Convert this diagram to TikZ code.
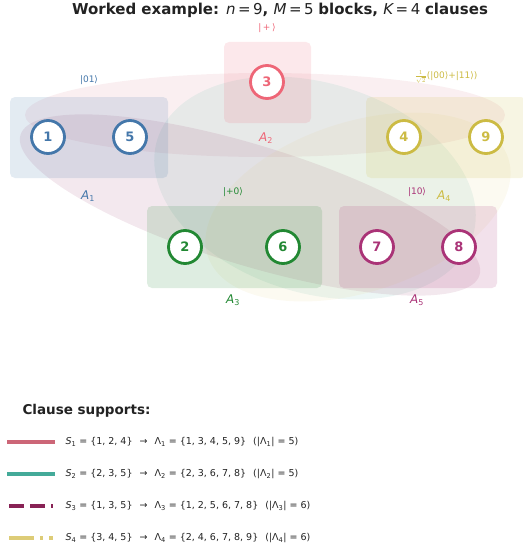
\documentclass[tikz,border=0pt]{standalone}
\usepackage{fontspec}
\setmainfont{DejaVu Sans}
\usepackage{xcolor}

\definecolor{blockblue}{HTML}{4477AA}
\definecolor{blockred}{HTML}{EE6677}
\definecolor{blockgreen}{HTML}{228833}
\definecolor{blockyellow}{HTML}{CCBB44}
\definecolor{blockpurple}{HTML}{AA3377}
\definecolor{clauserose}{HTML}{CC6677}
\definecolor{clauseteal}{HTML}{44AA99}
\definecolor{clausewine}{HTML}{882255}
\definecolor{clausesand}{HTML}{DDCC77}
\definecolor{inktext}{HTML}{222222}

\newcommand{\lowidx}[1]{\textsubscript{#1}}
\newcommand{\maps}{\hspace{7pt}→\hspace{7pt}}

\tikzset{
  qubit/.style={circle, draw=#1, line width=2.8pt, fill=white, text=#1,
    minimum size=33pt, inner sep=0pt, font=\fontsize{13}{15}\selectfont\bfseries},
  blockbox/.style={rounded corners=5pt, fill=#1, fill opacity=0.15},
  statelabel/.style={text=#1, font=\fontsize{9}{11}\selectfont},
  blocklabel/.style={text=#1, font=\fontsize{12}{14}\selectfont},
  support/.style={fill=#1, fill opacity=0.1},
  swatch/.style={draw=#1, line width=3.5pt},
  legendtext/.style={anchor=west, text=inktext, font=\fontsize{9.5}{11}\selectfont},
}

\begin{document}
\begin{tikzpicture}[x=1pt, y=-1pt]
  \useasboundingbox (0,0) rectangle (522,551);

  % Title
  \node[text=inktext, font=\fontsize{15}{17}\selectfont] (title) at (280,10)
    {\bfseries Worked example: \mdseries\itshape n\upshape\,=\,9\bfseries, \mdseries\itshape M\upshape\,=\,5 \bfseries blocks, \mdseries\itshape K\upshape\,=\,4 \bfseries clauses};

  % Clause supports
  \fill[support=clauserose] (265,115) ellipse [x radius=240, y radius=42];
  \fill[support=clauseteal, rotate around={-17:(315,188)}] (315,188) ellipse [x radius=165, y radius=105];
  \fill[support=clausewine, rotate around={-17:(250,205)}] (250,205) ellipse [x radius=240, y radius=60];
  \fill[support=clausesand, rotate around={18:(358,207)}] (358,207) ellipse [x radius=158, y radius=85];

  % Blocks
  \fill[blockbox=blockblue] (10,97) rectangle (168,178);
  \fill[blockbox=blockred] (224,42) rectangle (311,123);
  \fill[blockbox=blockyellow] (366,97) rectangle (526,178);
  \fill[blockbox=blockgreen] (147,206) rectangle (322,288);
  \fill[blockbox=blockpurple] (339,206) rectangle (497,288);

  % Qubits
  \node[qubit=blockblue] (q1) at (48,137) {1};
  \node[qubit=blockblue] (q5) at (130,137) {5};
  \node[qubit=blockred] (q3) at (267,82) {3};
  \node[qubit=blockyellow] (q4) at (404,137) {4};
  \node[qubit=blockyellow] (q9) at (486,137) {9};
  \node[qubit=blockgreen] (q2) at (185,247) {2};
  \node[qubit=blockgreen] (q6) at (283,247) {6};
  \node[qubit=blockpurple] (q7) at (377,247) {7};
  \node[qubit=blockpurple] (q8) at (459,247) {8};

  % States
  \node[statelabel=blockblue] (st1) at (89,80) {|01⟩};
  \node[statelabel=blockred] (st2) at (267,28) {|\,+\,⟩};
  \node[statelabel=blockyellow] (st4) at (446,77)
    {$\frac{1}{\sqrt{2}}$(|00⟩+|11⟩)};
  \node[statelabel=blockgreen] (st3) at (233,192) {|+0⟩};
  \node[statelabel=blockpurple] (st5) at (417,192) {|10⟩};

  % Block names
  \node[blocklabel=blockblue] (lbA1) at (88,196) {\textit{A}\lowidx{1}};
  \node[blocklabel=blockred] (lbA2) at (266,138) {\textit{A}\lowidx{2}};
  \node[blocklabel=blockyellow] (lbA4) at (444,196) {\textit{A}\lowidx{4}};
  \node[blocklabel=blockgreen] (lbA3) at (233,300) {\textit{A}\lowidx{3}};
  \node[blocklabel=blockpurple] (lbA5) at (417,300) {\textit{A}\lowidx{5}};

  % Legend
  \node[anchor=west, text=inktext, font=\fontsize{13.5}{15}\selectfont\bfseries] (legtitle) at (19,411) {Clause supports:};

  \node[legendtext] (leg1) at (62,442)
    {\textit{S}\lowidx{1} = \{1, 2, 4\}\maps Λ\lowidx{1} = \{1, 3, 4, 5, 9\}\hspace{7pt}(|Λ\lowidx{1}| = 5)};
  \node[legendtext] (leg2) at (62,474)
    {\textit{S}\lowidx{2} = \{2, 3, 5\}\maps Λ\lowidx{2} = \{2, 3, 6, 7, 8\}\hspace{7pt}(|Λ\lowidx{2}| = 5)};
  \node[legendtext] (leg3) at (62,506)
    {\textit{S}\lowidx{3} = \{1, 3, 5\}\maps Λ\lowidx{3} = \{1, 2, 5, 6, 7, 8\}\hspace{7pt}(|Λ\lowidx{3}| = 6)};
  \node[legendtext] (leg4) at (62,538)
    {\textit{S}\lowidx{4} = \{3, 4, 5\}\maps Λ\lowidx{4} = \{2, 4, 6, 7, 8, 9\}\hspace{7pt}(|Λ\lowidx{4}| = 6)};

  \draw[swatch=clauserose] ([xshift=-55pt]leg1.west) -- ([xshift=-7pt]leg1.west);
  \draw[swatch=clauseteal] ([xshift=-55pt]leg2.west) -- ([xshift=-7pt]leg2.west);
  \draw[swatch=clausewine, dash pattern=on 15pt off 6pt] ([xshift=-53pt]leg3.west) -- ([xshift=-9pt]leg3.west);
  \draw[swatch=clausesand, dash pattern=on 25pt off 6pt on 3pt off 6pt] ([xshift=-53pt]leg4.west) -- ([xshift=-9pt]leg4.west);
\end{tikzpicture}
\end{document}
